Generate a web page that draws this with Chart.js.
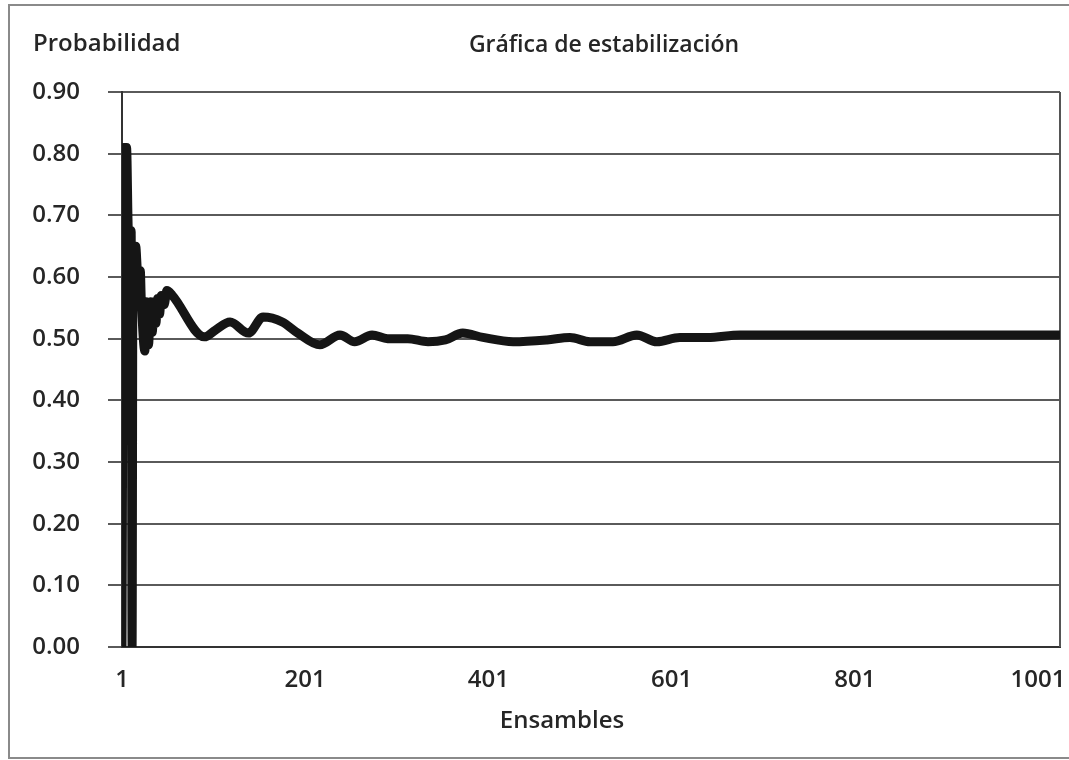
<!DOCTYPE html>
<html>
<head>
<meta charset="utf-8">
<script src="https://cdn.jsdelivr.net/npm/chart.js@4.4.1/dist/chart.umd.min.js"></script>
<style>
    html, body { margin: 0; padding: 0; background: #fff; }
</style>
</head>
<body>
<canvas id="estabilizacion" width="1069" height="760"></canvas>
<script>
// datos
const ensambles = [1, 3, 6, 8, 11, 12, 13, 16, 18, 21, 22, 26, 28, 30, 32, 34, 36, 38, 40, 42, 44, 47, 50, 56,
    91, 103, 119, 139, 155, 176, 193, 217, 239, 255, 274, 291, 313, 335, 354, 373, 395,
    428, 465, 490, 512, 537, 563, 585, 610, 640, 676, 1025];
const probabilidad = [0.00, 0.81, 0.81, 0.675, 0.675, 0.00, 0.65, 0.65, 0.61, 0.61, 0.565, 0.48,
    0.56, 0.49, 0.56, 0.51, 0.56, 0.525, 0.565, 0.54, 0.57, 0.555, 0.578, 0.57,
    0.503, 0.514, 0.527, 0.509, 0.535, 0.527, 0.509, 0.49, 0.506, 0.495, 0.506, 0.50, 0.50, 0.495,
    0.498, 0.509, 0.502, 0.495, 0.498, 0.502, 0.495, 0.495, 0.506, 0.495, 0.502, 0.502, 0.506, 0.506];

const xTicks = [1, 201, 401, 601, 801, 1001];
const yTicks = [0, 0.1, 0.2, 0.3, 0.4, 0.5, 0.6, 0.7, 0.8, 0.9];

const titulo = 'Gráfica de estabilización';
const tituloY = 'Probabilidad';
const tituloX = 'Ensambles';

const fuente = { family: '"Open Sans", sans-serif', size: 24, weight: '600' };
const colorTexto = '#262626';

// marco exterior y textos sueltos
const marco = {
    id: 'marco',
    beforeDraw(chart) {
        const c = chart.ctx;
        c.save();
        c.fillStyle = '#fff';
        c.fillRect(0, 0, chart.width, chart.height);
        c.strokeStyle = '#8a8a8a';
        c.lineWidth = 2;
        c.strokeRect(9, 5, chart.width, 753);
        c.restore();
    },
    beforeDatasetsDraw(chart) {
        const c = chart.ctx, a = chart.chartArea;
        c.save();
        c.strokeStyle = '#555';
        c.lineWidth = 2;
        c.beginPath();
        c.moveTo(a.right, a.top);
        c.lineTo(a.right, a.bottom);
        c.stroke();
        c.restore();
    },
    afterDraw(chart) {
        const c = chart.ctx;
        c.save();
        c.fillStyle = colorTexto;
        c.font = '600 24px "Open Sans", sans-serif';
        c.textBaseline = 'middle';
        c.textAlign = 'left';
        c.fillText(tituloY, 33, 44);
        c.textAlign = 'center';
        c.font = '600 23px "Open Sans", sans-serif';
        c.fillText(titulo, 604, 45);
        c.font = '600 24px "Open Sans", sans-serif';
        c.fillText(tituloX, 562, 721);
        c.restore();
    }
};

const ctx = document.getElementById('estabilizacion').getContext('2d');

new Chart(ctx, {
    type: 'line',
    data: {
        datasets: [{
            data: ensambles.map((x, i) => ({ x: x, y: probabilidad[i] })),
            borderColor: '#151515',
            borderWidth: 9,
            borderJoinStyle: 'round',
            borderCapStyle: 'round',
            cubicInterpolationMode: 'monotone',
            pointRadius: 0,
            fill: false,
        }],
    },
    options: {
        responsive: false,
        animation: false,
        devicePixelRatio: 1,
        layout: { padding: { top: 92, right: 9, bottom: 0, left: 0 } },
        plugins: {
            legend: { display: false },
            tooltip: { enabled: false },
        },
        scales: {
            x: {
                type: 'linear',
                min: 1,
                max: 1025,
                afterBuildTicks: s => { s.ticks = xTicks.map(v => ({ value: v })); },
                afterFit: s => {
                    s.height = 113;
                    s.paddingLeft = 0;
                    s.paddingRight = 0;
                },
                ticks: {
                    callback: v => String(v),
                    font: fuente,
                    color: colorTexto,
                    padding: 19,
                    maxRotation: 0,
                    autoSkip: false,
                },
                grid: { display: false, drawTicks: false },
                border: { display: true, color: '#333', width: 2 },
            },
            y: {
                min: 0,
                max: 0.9,
                afterBuildTicks: s => { s.ticks = yTicks.map(v => ({ value: v })); },
                afterFit: s => { s.width = 122; },
                ticks: {
                    callback: v => v.toFixed(2),
                    font: fuente,
                    color: colorTexto,
                    padding: 28,
                },
                grid: { color: '#5a5a5a', lineWidth: 2, tickLength: 14 },
                border: { display: true, color: '#333', width: 2 },
            },
        },
    },
    plugins: [marco],
});
</script>
</body>
</html>
